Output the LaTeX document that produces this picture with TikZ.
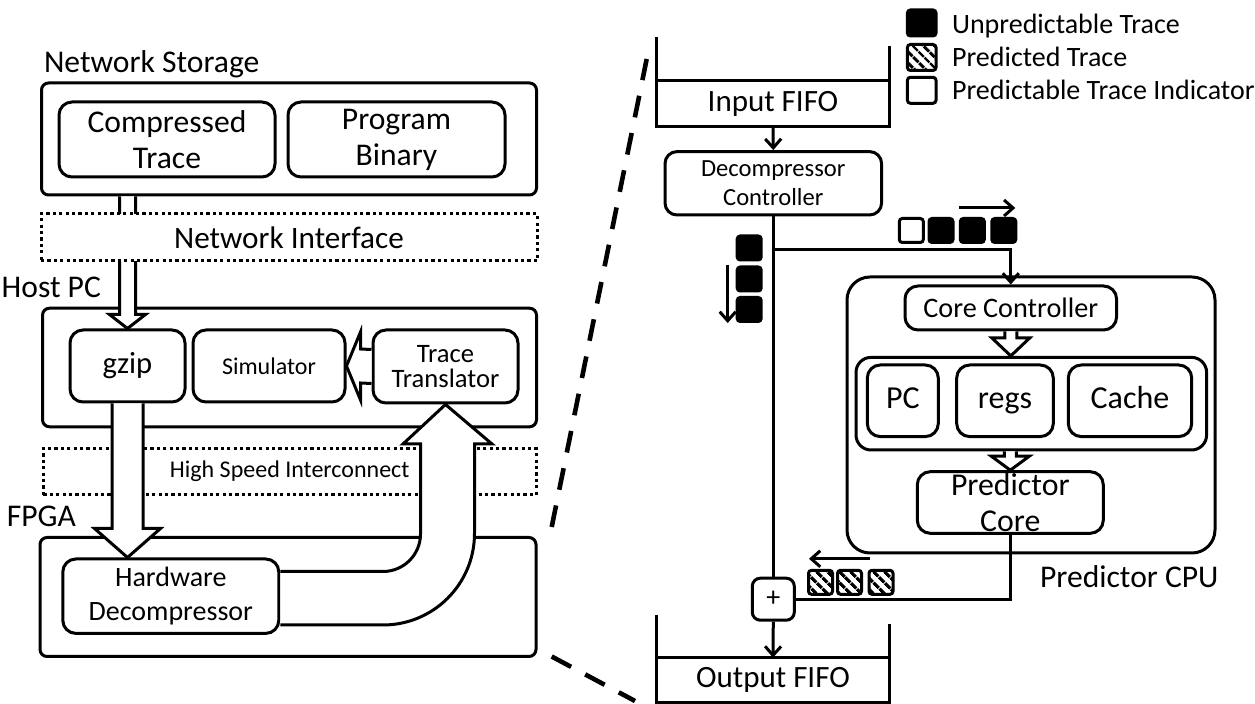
\documentclass[tikz,border=0pt]{standalone}
\usepackage{fontspec}
\setmainfont{Carlito}
\usetikzlibrary{positioning,calc,arrows.meta,patterns.meta}

% hollow block arrow pointing down: from, tip, half shaft, half head, head length
\newcommand{\fatdown}[5]{%
  \filldraw[fat] ($(#1)+(-#3,0)$) -- ($(#2)+(-#3,-#5)$) -- ($(#2)+(-#4,-#5)$) -- (#2)
    -- ($(#2)+(#4,-#5)$) -- ($(#2)+(#3,-#5)$) -- ($(#1)+(#3,0)$);}

\tikzset{
  frame/.style={draw, line width=1.5pt, rounded corners=3.5pt, inner sep=0pt},
  box/.style={draw, line width=1.5pt, rounded corners=6.5pt, inner sep=0pt, align=center},
  bus/.style={draw, fill=white, line width=1.5pt, dash pattern=on 1.6pt off 1.6pt, inner sep=0pt},
  fat/.style={draw, fill=white, line width=1.5pt, line join=miter},
  wire/.style={line width=1.5pt},
  conn/.style={wire, -{Straight Barb[length=4.5pt,width=8pt]}},
  wall/.style={line width=1.5pt, line join=miter},
  zoomline/.style={line width=2.3pt, dash pattern=on 11pt off 8pt},
  token/.style={draw, line width=1.5pt, rounded corners=1.5pt, minimum size=12pt, inner sep=0pt},
  unpred/.style={token, fill=black},
  pred/.style={token, pattern={Lines[angle=-45,distance=4pt,line width=1.7pt]}},
  indic/.style={token, fill=white},
  big/.style={font=\fontsize{15.8}{18}\selectfont},
  key/.style={font=\fontsize{14}{16}\selectfont},
  mid/.style={font=\fontsize{14.1}{16}\selectfont},
  small/.style={font=\fontsize{12}{13}\selectfont},
  reg/.style={box, font=\fontsize{16}{18}\selectfont, text height=11pt, text depth=3pt, minimum height=35.8pt},
}

\begin{document}
\begin{tikzpicture}[x=0.5pt,y=-0.5pt]
\useasboundingbox (0,0) rectangle (1255,704);

% Network storage
\node[big, anchor=base west] (storagelbl) at (37,73) {Network Storage};
\node[frame, minimum width=247.5pt, minimum height=56pt] (storage) at (289,139) {};
\node[box, big, minimum width=108pt, minimum height=37.5pt] (comptrace) at (167,139.5) {Compressed\\Trace};
\node[box, big, minimum width=108.5pt, minimum height=37.5pt] (progbin) at (396.5,139.5) {Program\\Binary};

% Host PC
\node[big, anchor=base east] (hostlbl) at (108,298) {Host PC};
\node[frame, minimum width=247pt, minimum height=59.3pt] (hostpc) at (289.5,367.5) {};
\node[box, font=\fontsize{15.3}{18}\selectfont, minimum width=57.5pt, minimum height=36pt] (gzip) at (127.5,366) {gzip};
\node[box, small, minimum width=76pt, minimum height=36pt] (sim) at (269,366) {Simulator};
\node[box, font=\fontsize{13.3}{12.7}\selectfont, minimum width=72.5pt, minimum height=36.5pt] (transl) at (445.5,366.5) {Trace\\Translator};

% High speed link and FPGA
\node[bus, small, minimum width=246.3pt, minimum height=23.3pt] (hsi) at (289.7,471.7) {High Speed Interconnect};
\node[big, anchor=base east] (fpgalbl) at (83,527) {FPGA};
\node[frame, minimum width=248pt, minimum height=59.5pt] (fpga) at (288,597) {};
\node[box, font=\fontsize{14}{17}\selectfont, minimum width=108pt, minimum height=37.2pt] (hwdec) at (170.8,596.2) {Hardware\\Decompressor};

% Block arrows
\fatdown{gzip.north |- storage.south}{gzip.north}{8}{18}{14}
\fatdown{gzip.south}{gzip.south |- hwdec.north}{15.5}{33}{29}
\filldraw[fat] ($(transl.west)+(0,-17)$) -- ($(sim.east)+(14,-17)$) -- ($(sim.east)+(14,-34)$) -- (sim.east)
  -- ($(sim.east)+(14,34)$) -- ($(sim.east)+(14,17)$) -- ($(transl.west)+(0,17)$);
\filldraw[fat] (hwdec.east |- 0,571.5) -- (383,571.5) arc[start angle=90, end angle=0, radius=37.5]
  -- (420.5,444) -- (403,444) -- (transl.south) -- (492,444) -- (474.5,444)
  -- (474.5,533.5) arc[start angle=0, end angle=90, radius=91.5] -- (hwdec.east |- 0,625);

% Network interface on top of the storage arrow
\node[bus, font=\fontsize{15.6}{18}\selectfont, minimum width=248pt, minimum height=23.5pt] (netif) at (289,237.5) {Network Interface};

% Zoom lines
\coordinate (zoomtop) at (646.7,59);
\coordinate (zoomlow) at (551.7,527);
\coordinate (zoomA) at (551.7,656.5);
\coordinate (zoomB) at (635,701);
\draw[zoomline] (zoomlow) -- (zoomtop);
\draw[zoomline] (zoomA) -- (zoomB);

% Legend
\node[unpred, minimum width=14.3pt, minimum height=13pt] (keyU) at (921.7,23) {};
\node[pred, minimum width=14.3pt, minimum height=13pt] (keyP) at (921.7,57.5) {};
\node[indic, minimum width=14.3pt, minimum height=13pt] (keyI) at (921.7,90.3) {};
\node[key, anchor=base west] (keyUtxt) at (945,33.3) {Unpredictable Trace};
\node[key, anchor=base west] (keyPtxt) at (945,66.7) {Predicted Trace};
\node[key, anchor=base west] (keyItxt) at (945,100) {Predictable Trace Indicator};

% Input FIFO and decompressor controller
\node[font=\fontsize{15.5}{18}\selectfont, minimum width=116.3pt, minimum height=22.5pt, inner sep=0pt] (infifo) at (773,103.5) {Input FIFO};
\draw[wall] (infifo.west |- 0,37) -- (infifo.south west) -- (infifo.south east) -- (infifo.east |- 0,46);
\draw[wall] (infifo.north west) -- (infifo.north east);
\node[box, font=\fontsize{12.3}{14.7}\selectfont, rounded corners=6pt, minimum width=108.3pt, minimum height=31.7pt] (decctrl) at (773.3,183.3) {Decompressor\\Controller};
\draw[conn] (infifo.south) -- (decctrl.north);

% Predictor CPU
\node[frame, rounded corners=11.5pt, minimum width=184pt, minimum height=138pt] (cpu) at (1031,415) {};
\node[big, anchor=base west] (cpulbl) at (1033,588) {Predictor CPU};
\node[box, mid, minimum width=105.8pt, minimum height=22pt] (corectrl) at (1010.8,308) {Core Controller};
\node[box, rounded corners=7.5pt, minimum width=175.3pt, minimum height=46.3pt] (state) at (1031.3,403.7) {};
\node[reg, minimum width=35.5pt] (pcbox) at (902.8,400.8) {PC};
\node[reg, minimum width=48.3pt] (regs) at (1005,400.8) {regs};
\node[reg, minimum width=61.7pt] (cache) at (1130,400.8) {Cache};
\node[box, font=\fontsize{15.9}{18.3}\selectfont, minimum width=93pt, minimum height=30.8pt] (predcore) at (1010.3,502.5) {Predictor\\Core};
\fatdown{corectrl.south}{corectrl.south |- state.north}{6}{19}{18}
\fatdown{predcore.north |- state.south}{predcore.north}{6}{19}{14}

% Merge and output FIFO
\node[box, font=\fontsize{14}{16}\selectfont, rounded corners=4pt, minimum size=21pt] (plus) at (773.3,599.2) {+};
\node[font=\fontsize{15.5}{18}\selectfont, minimum width=116.3pt, minimum height=22pt, inner sep=0pt] (outfifo) at (773,680) {Output FIFO};
\draw[wall] (outfifo.west |- 0,615) -- (outfifo.south west) -- (outfifo.south east) -- (outfifo.east |- 0,624);
\draw[wall] (outfifo.north west) -- (outfifo.north east);

% Trace paths
\coordinate (split) at (decctrl.south |- 0,250);
\draw[wire] (decctrl.south) -- (plus.north);
\draw[conn] (split) -| (corectrl.north);
\draw[wire] (predcore.south) |- (plus.east);
\draw[conn] (plus.south) -- (outfifo.north);

% Trace tokens
\foreach \i/\y in {1/248,2/279,3/309.5}
  \node[unpred] (vt\i) at (749.2,\y) {};
\draw[conn] ($(vt2.north west)+(-8,0)$) -- ($(vt3.south west)+(-8,0)$);
\node[indic] (ht0) at (911.3,230.5) {};
\foreach \i/\x in {1/941,2/972.3,3/1003.8}
  \node[unpred] (ht\i) at (\x,230.5) {};
\draw[conn] ($(ht2.north west)+(0,-9)$) -- ($(ht3.north east)+(-2,-9)$);
\foreach \i/\x in {1/820.5,2/849.5,3/881}
  \node[pred] (pt\i) at (\x,582.3) {};
\draw[conn] ($(pt3.north)+(-11,-10)$) -- ($(pt1.north west)+(2,-10)$);
\end{tikzpicture}
\end{document}
